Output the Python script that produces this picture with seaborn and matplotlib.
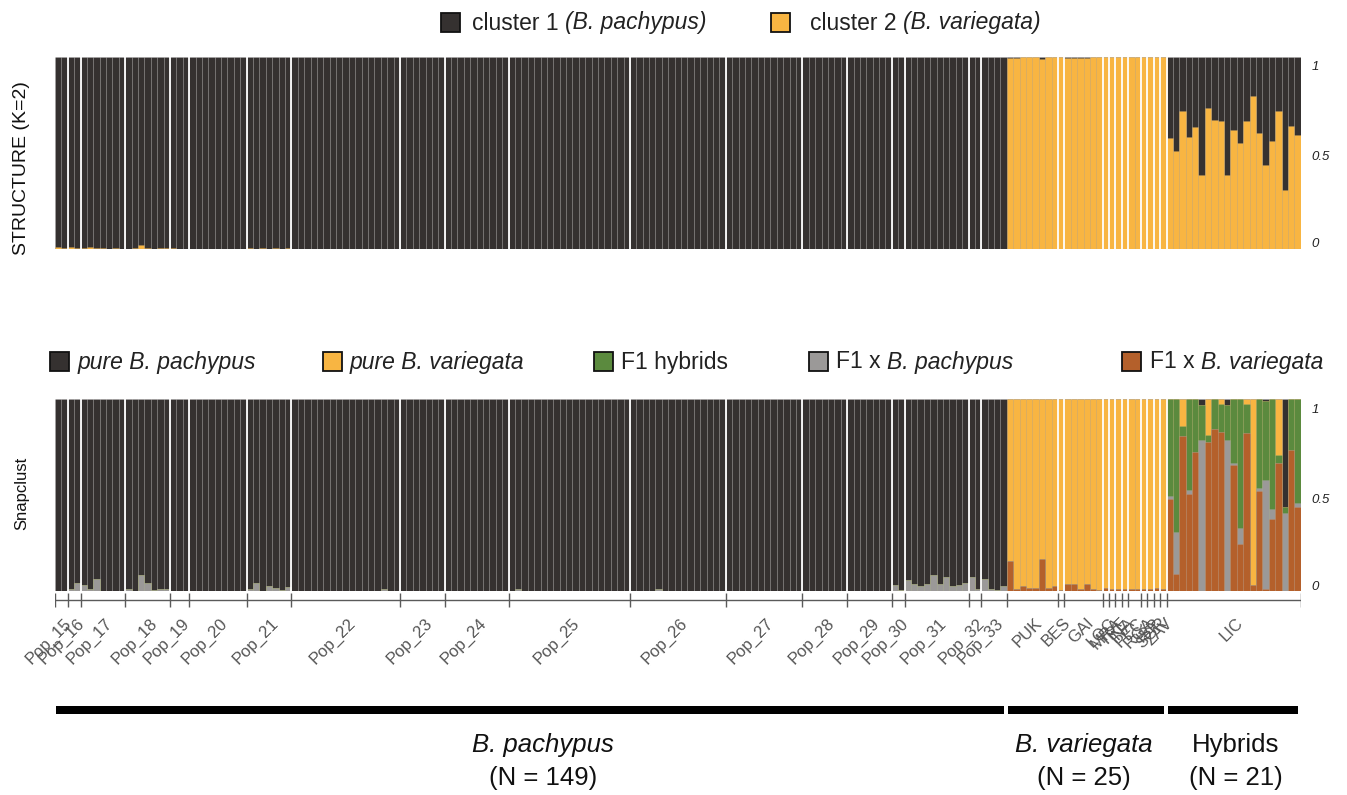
import numpy as np
import matplotlib
matplotlib.use("Agg")
import matplotlib.pyplot as plt
import matplotlib.transforms as mtransforms
from matplotlib.patches import Rectangle
import seaborn as sns

# ---------------- data ----------------
pach_pops = ["Pop_15", "Pop_16", "Pop_17", "Pop_18", "Pop_19", "Pop_20", "Pop_21",
             "Pop_22", "Pop_23", "Pop_24", "Pop_25", "Pop_26", "Pop_27", "Pop_28",
             "Pop_29", "Pop_30", "Pop_31", "Pop_32", "Pop_33"]
pach_sizes = [2, 2, 7, 7, 3, 9, 7, 17, 7, 10, 19, 15, 12, 7, 7, 2, 10, 2, 4]
var_pops = ["PUK", "BES", "GAI", "LOC", "MRA", "TRE", "INA", "PEC", "RGA", "ISP", "SGR", "ZAV"]
var_sizes = [8, 1, 6, 1, 1, 1, 1, 2, 1, 1, 1, 1]
hyb_pops = ["LIC"]
hyb_sizes = [21]

groups = ["B. pachypus", "B. variegata", "Hybrids"]
group_n = [149, 25, 21]

# STRUCTURE (K=2): cluster 2 (B. variegata) share for B. pachypus individuals, per population
pach_struct_c2 = [
    [0.01, 0.005],
    [0.01, 0.005],
    [0.005, 0.01, 0.005, 0.005, 0.0, 0.005, 0.0],
    [0.0, 0.005, 0.02, 0.005, 0.0, 0.005, 0.005],
    [0.005, 0.0, 0.0],
    [0.0, 0.0, 0.0, 0.0, 0.0, 0.0, 0.0, 0.0, 0.0],
    [0.005, 0.0, 0.005, 0.0, 0.005, 0.0, 0.005],
    [0.0, 0.0, 0.0, 0.0, 0.0, 0.0, 0.0, 0.0, 0.0, 0.0, 0.0, 0.0, 0.0, 0.0, 0.0, 0.0, 0.0],
    [0.0, 0.0, 0.0, 0.0, 0.0, 0.0, 0.0],
    [0.0, 0.0, 0.0, 0.0, 0.0, 0.0, 0.0, 0.0, 0.0, 0.0],
    [0.0, 0.0, 0.0, 0.0, 0.0, 0.0, 0.0, 0.0, 0.0, 0.0, 0.0, 0.0, 0.0, 0.0, 0.0, 0.0, 0.0, 0.0, 0.0],
    [0.0, 0.0, 0.0, 0.0, 0.0, 0.0, 0.0, 0.0, 0.0, 0.0, 0.0, 0.0, 0.0, 0.0, 0.0],
    [0.0, 0.0, 0.0, 0.0, 0.0, 0.0, 0.0, 0.0, 0.0, 0.0, 0.0, 0.0],
    [0.0, 0.0, 0.0, 0.0, 0.0, 0.0, 0.0],
    [0.0, 0.0, 0.0, 0.0, 0.0, 0.0, 0.0],
    [0.0, 0.0],
    [0.003, 0.003, 0.0, 0.003, 0.003, 0.0, 0.003, 0.003, 0.0, 0.003],
    [0.0, 0.0],
    [0.003, 0.0, 0.0, 0.0],
]
# cluster 1 (B. pachypus) share for B. variegata individuals
var_struct_c1 = [0.005, 0.005, 0.0, 0.0, 0.0, 0.008, 0.0, 0.0, 0.0, 0.005, 0.005, 0.005,
                 0.005, 0.0, 0.0, 0.0, 0.0, 0.0, 0.0, 0.0, 0.0, 0.0, 0.0, 0.0, 0.0]
# cluster 2 (B. variegata) share for hybrids
hyb_struct_c2 = [0.579, 0.509, 0.721, 0.586, 0.638, 0.384, 0.733, 0.672, 0.666, 0.384, 0.621,
                 0.552, 0.669, 0.798, 0.603, 0.44, 0.562, 0.721, 0.307, 0.64, 0.595]

# Snapclust: F1 x B. pachypus share for B. pachypus individuals, per population
pach_snap_f1xpach = [
    [0.0, 0.0],
    [0.012, 0.042],
    [0.033, 0.012, 0.063, 0.0, 0.0, 0.0, 0.0],
    [0.012, 0.0, 0.083, 0.042, 0.003, 0.012, 0.012],
    [0.0, 0.0, 0.0],
    [0.0, 0.0, 0.0, 0.0, 0.0, 0.0, 0.0, 0.0, 0.0],
    [0.012, 0.042, 0.0, 0.024, 0.016, 0.003, 0.023],
    [0.0, 0.0, 0.0, 0.0, 0.0, 0.0, 0.0, 0.0, 0.0, 0.0, 0.0, 0.0, 0.0, 0.0, 0.012, 0.0, 0.0],
    [0.0, 0.0, 0.0, 0.0, 0.0, 0.0, 0.0],
    [0.0, 0.0, 0.0, 0.0, 0.0, 0.0, 0.0, 0.0, 0.0, 0.0],
    [0.0, 0.012, 0.0, 0.0, 0.0, 0.0, 0.0, 0.0, 0.0, 0.0, 0.0, 0.0, 0.0, 0.0, 0.0, 0.0, 0.0, 0.0, 0.0],
    [0.0, 0.0, 0.0, 0.0, 0.012, 0.0, 0.0, 0.0, 0.0, 0.0, 0.0, 0.0, 0.0, 0.0, 0.0],
    [0.0, 0.0, 0.0, 0.0, 0.0, 0.0, 0.0, 0.0, 0.0, 0.0, 0.0, 0.0],
    [0.0, 0.0, 0.0, 0.0, 0.0, 0.0, 0.0],
    [0.0, 0.0, 0.0, 0.0, 0.0, 0.0, 0.0],
    [0.033, 0.007],
    [0.056, 0.038, 0.024, 0.038, 0.082, 0.038, 0.073, 0.024, 0.03, 0.042],
    [0.073, 0.012],
    [0.064, 0.012, 0.007, 0.024],
]
# F1 x B. variegata share for B. variegata individuals
var_snap_f1xvar = [0.156, 0.01, 0.026, 0.014, 0.014, 0.168, 0.014, 0.026,
                   0.005,
                   0.038, 0.038, 0.01, 0.038, 0.01, 0.005,
                   0.017, 0.009, 0.009, 0.009, 0.009, 0.009, 0.009, 0.009, 0.017, 0.009]
# hybrids
hyb_f1xvar = [0.478, 0.09, 0.807, 0.508, 0.725, 0.0, 0.777, 0.843, 0.83, 0.0, 0.656,
              0.247, 0.826, 0.033, 0.52, 0.01, 0.377, 0.67, 0.0, 0.734, 0.438]
hyb_f1xpach = [0.017, 0.217, 0.0, 0.021, 0.0, 0.786, 0.0, 0.0, 0.0, 0.786, 0.01,
               0.082, 0.0, 0.0, 0.017, 0.567, 0.049, 0.0, 0.409, 0.0, 0.021]
hyb_f1 = [0.505, 0.693, 0.052, 0.471, 0.275, 0.183, 0.038, 0.157, 0.147, 0.183, 0.334,
          0.671, 0.151, 0.0, 0.463, 0.413, 0.574, 0.038, 0.029, 0.266, 0.541]
hyb_purevar = [0.0, 0.0, 0.141, 0.0, 0.0, 0.0, 0.185, 0.0, 0.023, 0.0, 0.0,
               0.0, 0.023, 0.967, 0.0, 0.0, 0.0, 0.292, 0.0, 0.0, 0.0]
hyb_purepach = [0.0, 0.0, 0.0, 0.0, 0.0, 0.031, 0.0, 0.0, 0.0, 0.031, 0.0,
                0.0, 0.0, 0.0, 0.0, 0.01, 0.0, 0.0, 0.562, 0.0, 0.0]

# ---------------- assemble ----------------
flat = lambda ll: [v for l in ll for v in l]
n_p, n_v, n_h = sum(pach_sizes), sum(var_sizes), sum(hyb_sizes)
N = n_p + n_v + n_h
idx = np.arange(N)

s_c2 = np.array(flat(pach_struct_c2) + [1 - v for v in var_struct_c1] + hyb_struct_c2)
s_tot = np.ones(N)

pf = flat(pach_snap_f1xpach)
brown = np.array([0.0] * n_p + var_snap_f1xvar + hyb_f1xvar)
gray = np.array(pf + [0.0] * n_v + hyb_f1xpach)
green = np.array([0.0] * (n_p + n_v) + hyb_f1)
orange = np.array([0.0] * n_p + [1 - v for v in var_snap_f1xvar] + hyb_purevar)
dark = np.array([1 - v for v in pf] + [0.0] * n_v + hyb_purepach)
c1 = brown
c2 = c1 + gray
c3 = c2 + green
c4 = c3 + orange
c5 = c4 + dark

C_DARK = "#353130"
C_ORANGE = "#F8B542"
C_GREEN = "#5B8A3E"
C_GRAY = "#9B9998"
C_BROWN = "#B4602B"

# ---------------- figure ----------------
sns.set_theme(style="white")
plt.rcParams["font.family"] = ["Liberation Sans", "DejaVu Sans"]

W, H = 1347, 795
fig = plt.figure(figsize=(W / 100, H / 100), dpi=100)
fig.patch.set_facecolor("white")


def px_axes(x0, y0, x1, y1, **kw):
    return fig.add_axes([x0 / W, 1 - y1 / H, (x1 - x0) / W, (y1 - y0) / H], **kw)


XL, XR = 55, 1300.7
ax1 = px_axes(XL, 57, XR, 249.3)
ax2 = px_axes(XL, 399.3, XR, 591)

bar_kw = dict(width=1, saturation=1, errorbar=None, native_scale=True,
              edgecolor=(1, 1, 1, 0.10), linewidth=0.5)

sns.barplot(x=idx, y=s_tot, color=C_DARK, ax=ax1, **bar_kw)
sns.barplot(x=idx, y=s_c2, color=C_ORANGE, ax=ax1, **bar_kw)

for cum, col in [(c5, C_DARK), (c4, C_ORANGE), (c3, C_GREEN), (c2, C_GRAY), (c1, C_BROWN)]:
    sns.barplot(x=idx, y=cum, color=col, ax=ax2, **bar_kw)

all_sizes = pach_sizes + var_sizes + hyb_sizes
all_pops = pach_pops + var_pops + hyb_pops
bounds = np.concatenate([[0], np.cumsum(all_sizes)])

for ax in (ax1, ax2):
    ax.set_xlim(-0.5, N - 0.5)
    ax.set_ylim(0, 1)
    for b in bounds[1:-1]:
        if b == n_p:
            continue
        ax.axvline(b - 0.5, color="white", lw=1.3)
    sns.despine(ax=ax, left=True, bottom=True)
    ax.set_xticks([])
    ax.set_xlabel("")
    ax.yaxis.tick_right()
    ax.tick_params(axis="y", length=0, pad=8)
ax1.set_yticks([0.035, 0.49, 0.955])
ax2.set_yticks([0.03, 0.485, 0.953])
for ax in (ax1, ax2):
    ax.set_yticklabels(["0", "0.5", "1"], fontsize=9.5, style="italic", color="#222222")
    ax.set_ylabel("")

# tick axis with population boundaries
axt = px_axes(XL, 592, XR, 608)
axt.set_xlim(-0.5, N - 0.5)
axt.set_ylim(0, 1)
axt.axis("off")
axt.axhline(0.5, color="#5a5a5a", lw=1)
axt.vlines(bounds - 0.5, 0.08, 0.92, color="#5a5a5a", lw=1)
tr = mtransforms.blended_transform_factory(axt.transData, axt.transAxes) + \
    mtransforms.ScaledTranslation(2 / 100, 0, fig.dpi_scale_trans)
for name, s, e in zip(all_pops, bounds[:-1], bounds[1:]):
    c = (s + e) / 2 - 0.5
    axt.text(c, -0.45, name, transform=tr, rotation=45, rotation_mode="anchor",
             ha="right", va="top", fontsize=12, color="#555555")

# overlay for legends, labels, group bars
ov = fig.add_axes([0, 0, 1, 1], zorder=-1)
ov.set_xlim(0, W)
ov.set_ylim(H, 0)
ov.axis("off")
renderer = fig.canvas.get_renderer()


def swatch(x, y, col, size=19):
    ov.add_patch(Rectangle((x, y), size, size, facecolor=col, edgecolor="#111111", lw=1.3))


def mixed(x, y, parts, fs):
    sp = fs * 100 / 72 * 0.278
    for i, (txt, st) in enumerate(parts):
        t = ov.text(x, y, txt, style=st, fontsize=fs, va="center", color="#222222")
        x += t.get_window_extent(renderer).width + sp


LFS = 16.5
# top legend
swatch(441, 13, C_DARK)
mixed(472, 23, [("cluster 1", "normal"), ("(B. pachypus)", "italic")], LFS)
swatch(771, 13, C_ORANGE)
mixed(810, 23, [("cluster 2", "normal"), ("(B. variegata)", "italic")], LFS)

# bottom legend
ly = 352
swatch(50, ly, C_DARK)
mixed(78, ly + 10, [("pure B. pachypus", "italic")], LFS)
swatch(323, ly, C_ORANGE)
mixed(350, ly + 10, [("pure B. variegata", "italic")], LFS)
swatch(594, ly, C_GREEN)
mixed(621, ly + 10, [("F1 hybrids", "normal")], LFS)
swatch(809, ly, C_GRAY)
mixed(836, ly + 10, [("F1 x", "normal"), ("B. pachypus", "italic")], LFS)
swatch(1122, ly, C_BROWN)
mixed(1150, ly + 10, [("F1 x", "normal"), ("B. variegata", "italic")], LFS)

# panel labels
ov.text(22, 168, "STRUCTURE (K=2)", rotation=90, ha="center", va="center", fontsize=14, color="#111111")
ov.text(22, 493, "Snapclust", rotation=90, ha="center", va="center", fontsize=12, color="#111111")

# group bars and labels
x_of = lambda i: XL + (XR - XL) * i / N
gb = [(0, n_p), (n_p, n_p + n_v), (n_p + n_v, N)]
shift = [12, -3, 2]
for (s, e), g, n, dx in zip(gb, groups, group_n, shift):
    x0, x1 = x_of(s), x_of(e)
    ov.add_patch(Rectangle((x0 + 1, 706), (x1 - x0) - 4, 8, facecolor="black", edgecolor="none"))
    cx = (x0 + x1) / 2 + dx
    ov.text(cx, 745, g, style=("normal" if g == "Hybrids" else "italic"), ha="center",
            va="center", fontsize=18.5, color="#111111")
    ov.text(cx, 778, f"(N = {n})", ha="center", va="center", fontsize=18.5, color="#111111")

fig.savefig("out.png", dpi=100, facecolor="white")
